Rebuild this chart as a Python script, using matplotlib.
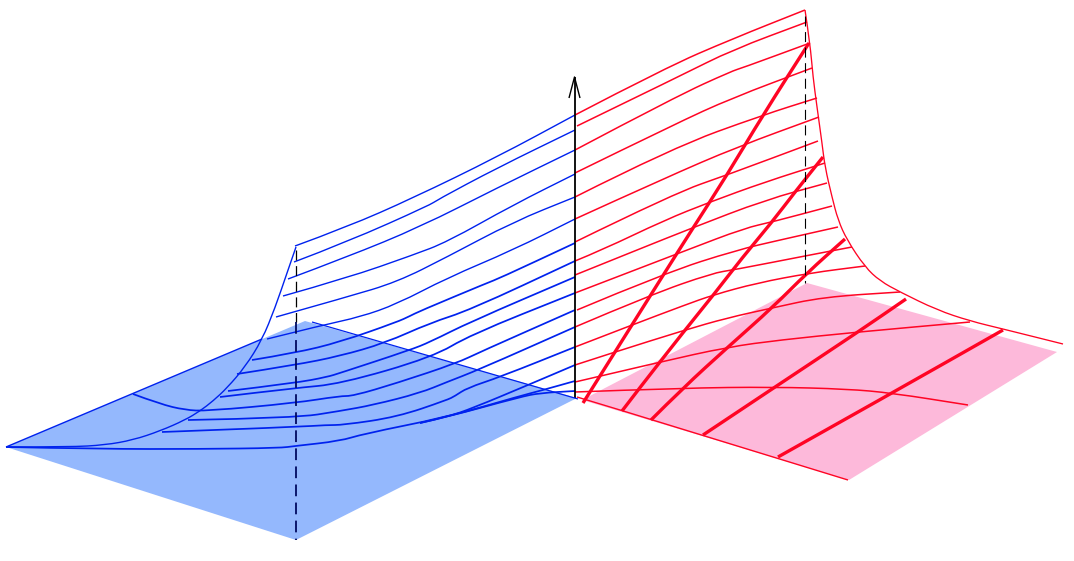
import matplotlib
matplotlib.use("Agg")
import matplotlib.pyplot as plt
from matplotlib.path import Path
from matplotlib.patches import PathPatch

# everything, as (x, y) in image pixels
blue_plane = [(6, 447), (305, 321), (577, 398), (296, 540)]
pink_plane = [(582, 400), (807, 283), (1057, 352), (849, 480)]

blue_edge_left = [(6, 447), (262, 339)]
blue_edge_back = [(312, 322), (578, 399)]
blue_envelope = [(6, 447), (70, 447), (105, 445), (133, 440), (160, 431), (185, 420), (200, 411),
                 (213, 401), (227, 388), (245, 367), (262, 340), (275, 308), (287, 273), (296, 247)]

blue_1 = [(295, 246), (347, 227), (413, 198), (497, 157), (575, 115)]
blue_2 = [(294, 262), (347, 242), (430, 205), (437, 200), (497, 168), (575, 130)]
blue_3 = [(288, 279), (347, 257), (420, 227), (497, 188), (575, 150)]
blue_4 = [(283, 296), (347, 278), (413, 255), (447, 242), (513, 205), (575, 174)]
blue_5 = [(276, 317), (347, 297), (397, 282), (447, 257), (513, 222), (575, 197)]
blue_6 = [(267, 339), (323, 325), (360, 317), (397, 304), (447, 278), (513, 250), (575, 219)]
blue_7 = [(252, 360), (295, 353), (340, 342), (397, 322), (410, 316), (420, 311), (487, 283), (500, 278), (575, 243)]
blue_8 = [(237, 374), (295, 365), (340, 356), (385, 343), (430, 323), (470, 310), (575, 261)]
blue_9 = [(228, 391), (295, 383), (327, 377), (340, 373), (410, 350), (430, 342), (470, 322), (575, 277)]
blue_10 = [(220, 397), (295, 388), (340, 384), (433, 357), (470, 335), (575, 293)]
blue_11 = [(133, 394), (160, 404), (185, 410), (207, 411), (295, 403), (340, 396), (353, 396),
           (397, 383), (457, 363), (480, 352), (575, 310)]
blue_12 = [(188, 420), (295, 418), (340, 411), (373, 405), (420, 393), (447, 382), (478, 370), (575, 327)]
blue_13 = [(162, 432), (295, 427), (327, 425), (343, 425), (397, 417), (447, 400), (455, 396),
           (467, 388), (500, 377), (575, 347)]
blue_14a = [(6, 447), (100, 449), (200, 449), (280, 448), (295, 446), (340, 441), (363, 434),
            (447, 417), (473, 408), (528, 385), (575, 365)]
blue_14b = [(420, 423), (447, 417), (520, 396), (543, 390), (575, 381)]
blue_14c = [(420, 423), (447, 417), (520, 397), (540, 393), (575, 391)]
blue_lines = [blue_1, blue_2, blue_3, blue_4, blue_5, blue_6, blue_7, blue_8, blue_9, blue_10,
              blue_11, blue_12, blue_13, blue_14a, blue_14b, blue_14c]

red_envelope = [(805, 10), (810, 43), (813, 77), (817, 107), (822, 143), (825, 167), (832, 197),
                (838, 220), (847, 240), (865, 267), (880, 281), (900, 292), (937, 310), (970, 321),
                (1003, 329), (1063, 344)]
red_front = [(577, 397), (620, 410), (848, 480)]

red_1 = [(575, 115), (665, 68), (732, 39), (805, 10)]
red_2 = [(577, 126), (682, 75), (732, 50), (807, 22)]
red_3 = [(575, 150), (675, 97), (732, 71), (742, 68), (810, 43)]
red_4 = [(575, 173), (675, 124), (732, 98), (812, 68)]
red_5 = [(575, 197), (672, 148), (763, 115), (817, 98)]
red_6 = [(575, 219), (665, 178), (737, 147), (819, 117)]
red_7 = [(575, 242), (675, 193), (727, 175), (818, 141)]
red_8 = [(575, 261), (602, 250), (665, 220), (710, 202), (765, 182), (825, 163)]
red_9 = [(575, 275), (637, 250), (692, 228), (765, 200), (827, 183)]
red_10 = [(575, 293), (687, 250), (745, 228), (772, 222), (832, 206)]
red_11 = [(577, 310), (665, 273), (737, 250), (780, 240), (838, 227)]
red_12 = [(575, 327), (650, 295), (713, 273), (733, 270), (810, 255), (852, 247)]
red_13 = [(575, 347), (632, 325), (685, 305), (713, 295), (757, 283), (810, 273), (865, 266)]
red_14 = [(575, 365), (615, 352), (685, 330), (727, 318), (772, 308), (823, 297), (900, 292)]
red_15 = [(575, 382), (660, 362), (728, 347), (780, 340), (858, 332), (970, 322)]
red_16 = [(575, 392), (683, 388), (773, 387), (847, 389), (892, 393), (968, 405)]
red_lines = [red_1, red_2, red_3, red_4, red_5, red_6, red_7, red_8, red_9, red_10,
             red_11, red_12, red_13, red_14, red_15, red_16]

thick_1 = [(583, 403), (615, 352), (662, 277), (693, 228), (727, 175), (763, 115), (809, 43)]
thick_2 = [(622, 411), (638, 390), (685, 330), (715, 293), (742, 258), (772, 222), (795, 192), (823, 157)]
thick_3 = [(651, 420), (683, 388), (728, 347), (773, 307), (807, 273), (845, 239)]
thick_4 = [(703, 435), (775, 387), (858, 332), (906, 299)]
thick_5 = [(778, 457), (892, 393), (1003, 330)]
thick_lines = [thick_1, thick_2, thick_3, thick_4, thick_5]

axis_arrow = [(575, 398), (575, 77)]
arrow_head = [(569, 98), (574.5, 77), (580, 98)]
dash_blue_upper = [(296, 250), (296, 322)]
dash_blue_lower = [(296, 322), (296, 540)]
dash_red = [(805, 16), (805, 283)]

BLUE = "#0022ee"
RED = "#ff0424"


def draw(ax, pts, **kw):
    xs = [p[0] for p in pts]
    ys = [p[1] for p in pts]
    ax.plot(xs, ys, solid_capstyle="butt", **kw)


def draw_curve(ax, pts, color, lw):
    # quadratic bezier pieces, so the read points act as control points
    verts = [pts[0]]
    codes = [Path.MOVETO]
    for i in range(1, len(pts) - 1):
        mid = ((pts[i][0] + pts[i + 1][0]) / 2, (pts[i][1] + pts[i + 1][1]) / 2)
        verts += [pts[i], mid]
        codes += [Path.CURVE3, Path.CURVE3]
    verts.append(pts[-1])
    codes.append(Path.LINETO)
    ax.add_patch(PathPatch(Path(verts, codes), fill=False, edgecolor=color, lw=lw, capstyle="butt"))


fig = plt.figure(figsize=(10.74, 5.61), dpi=100)
ax = fig.add_axes([0, 0, 1, 1])
ax.set_xlim(0, 1074)
ax.set_ylim(561, 0)
ax.axis("off")

ax.fill(*zip(*blue_plane), color="#94b8fd", lw=0)
ax.fill(*zip(*pink_plane), color="#fdb9da", lw=0)

draw(ax, dash_blue_upper, color="black", lw=0.9, dashes=(8, 4.5))
draw(ax, dash_blue_lower, color="#000a60", lw=1.3, dashes=(6.5, 3.5))
draw(ax, dash_red, color="black", lw=0.8, dashes=(9, 5))

draw(ax, axis_arrow, color="black", lw=1.3)
draw(ax, arrow_head, color="black", lw=1.0)

draw(ax, blue_edge_left, color=BLUE, lw=1.0)
draw(ax, blue_edge_back, color=BLUE, lw=0.9)
draw_curve(ax, blue_envelope, BLUE, 1.0)
for i, line in enumerate(blue_lines):
    draw_curve(ax, line, BLUE, 1.0 if i < 6 else 1.25)

draw_curve(ax, red_envelope, RED, 0.95)
draw(ax, red_front, color=RED, lw=1.0)
for line in red_lines:
    draw_curve(ax, line, RED, 1.1)
for line in thick_lines:
    draw_curve(ax, line, RED, 2.4)

fig.savefig("out.png", dpi=100)
